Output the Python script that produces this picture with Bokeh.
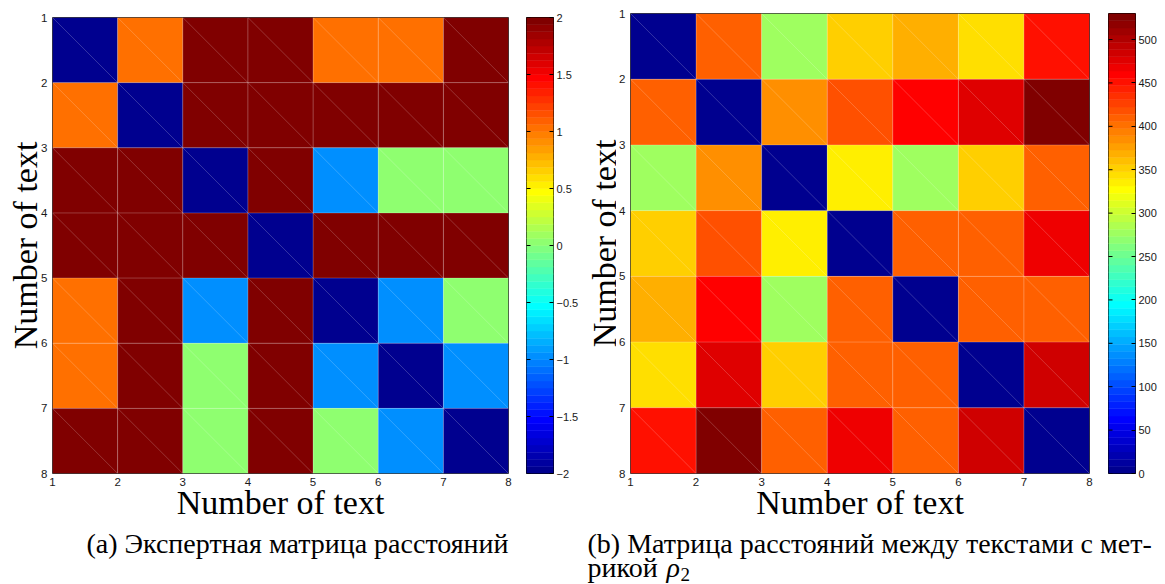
import math
import numpy as np
from bokeh.plotting import figure
from bokeh.models import (Range1d, FixedTicker, Label, ColumnDataSource,
                          LinearColorMapper, CustomJSTickFormatter)
from bokeh.layouts import row, column
from bokeh.embed import file_html
from bokeh.resources import INLINE

# ---------------- data ----------------
text_ids = [1, 2, 3, 4, 5, 6, 7]
tick_vals = [1, 2, 3, 4, 5, 6, 7, 8]

# (a) expert distance matrix
expert = [
    [-2, 1, 2, 2, 1, 1, 2],
    [1, -2, 2, 2, 2, 2, 2],
    [2, 2, -2, 2, -1, 0, 0],
    [2, 2, 2, -2, 2, 2, 2],
    [1, 2, -1, 2, -2, -1, 0],
    [1, 2, 0, 2, -1, -2, -1],
    [2, 2, 0, 2, 0, -1, -2],
]
expert_low, expert_high = -2, 2
expert_cbar_ticks = [-2, -1.5, -1, -0.5, 0, 0.5, 1, 1.5, 2]

# (b) distance matrix with metric rho_2
rho2 = [
    [0, 410, 277, 352, 369, 344, 451],
    [410, 0, 385, 418, 460, 476, 526],
    [277, 385, 0, 335, 277, 352, 410],
    [352, 418, 335, 0, 410, 410, 468],
    [369, 460, 277, 410, 0, 410, 410],
    [344, 476, 352, 410, 410, 0, 485],
    [451, 526, 410, 468, 410, 485, 0],
]
rho2_low, rho2_high = 0, 530
rho2_cbar_ticks = [0, 50, 100, 150, 200, 250, 300, 350, 400, 450, 500]

axis_title = "Number of text"
caption_a = "(a) Экспертная матрица расстояний"
caption_b1 = "(b) Матрица расстояний между текстами с мет-"
caption_b2 = "рикой"
caption_b_sym = "ρ"
caption_b_sub = "2"

SANS = "Liberation Sans"
SERIF = "Liberation Serif"
TICK_SIZE = "11.5px"
TITLE_PX = 34
CAPTION_PX = 28
SUB_PX = 19


def jet(m=64):
    n = math.ceil(m / 4)
    u = [i / n for i in range(1, n + 1)] + [1.0] * (n - 1) + [i / n for i in range(n, 0, -1)]
    g0 = math.ceil(n / 2) - (1 if m % 4 == 1 else 0)
    J = np.zeros((m, 3))
    for k in range(len(u)):
        gi = g0 + k + 1
        ri, bi = gi + n, gi - n
        if 1 <= gi <= m:
            J[gi - 1, 1] = u[k]
        if 1 <= ri <= m:
            J[ri - 1, 0] = u[k]
        if 1 <= bi <= m:
            J[bi - 1, 2] = u[k]
    return ["#%02x%02x%02x" % tuple(int(round(c * 255)) for c in rc) for rc in J]


JET = jet(64)
ROW_H = 526


def heat(matrix, lo, hi, width, bl, bt, br, frame_h):
    mapper = LinearColorMapper(palette=JET, low=lo, high=hi)
    xs, ys, vs = [], [], []
    for r, rv in enumerate(matrix):
        for c, v in enumerate(rv):
            xs.append(text_ids[c]); ys.append(text_ids[r]); vs.append(v)
    src = ColumnDataSource(dict(x=xs, y=ys, x1=[x + 1 for x in xs],
                                y1=[y + 1 for y in ys], v=vs))
    p = figure(width=width, height=ROW_H, x_range=Range1d(1, 8), y_range=Range1d(8, 1),
               toolbar_location=None, output_backend="svg", title=None, frame_align=False,
               min_border_left=bl, min_border_top=bt, min_border_right=br,
               min_border_bottom=ROW_H - bt - frame_h)
    p.quad(left='x', right='x1', top='y', bottom='y1', source=src,
           fill_color={'field': 'v', 'transform': mapper}, line_color=None)
    p.quad(left='x', right='x1', top='y', bottom='y1', source=src,
           fill_color=None, line_color='white', line_alpha=0.12, line_width=1)
    p.segment(x0='x', y0='y', x1='x1', y1='y1', source=src,
              line_color='white', line_alpha=0.25, line_width=0.8)
    p.grid.visible = False
    p.outline_line_color = "#2b2b2b"
    p.outline_line_width = 1
    for ax in (p.xaxis[0], p.yaxis[0]):
        ax.ticker = FixedTicker(ticks=tick_vals)
        ax.major_tick_in = 0
        ax.major_tick_out = 0
        ax.minor_tick_line_color = None
        ax.axis_line_color = None
        ax.major_label_text_font = SANS
        ax.major_label_text_font_size = TICK_SIZE
        ax.major_label_text_color = "#1a1a1a"
    p.xaxis.major_label_standoff = 4
    p.yaxis.major_label_standoff = 5
    xa = p.xaxis[0]
    xa.axis_label = axis_title
    xa.axis_label_text_font = SERIF
    xa.axis_label_text_font_size = f"{TITLE_PX}px"
    xa.axis_label_text_font_style = "normal"
    xa.axis_label_text_color = "black"
    xa.axis_label_standoff = -5
    p.background_fill_color = "white"
    p.border_fill_color = "white"
    return p


def cbar(lo, hi, ticks, width, bl, bt, br, frame_h, fmt_code):
    n = len(JET)
    step = (hi - lo) / n
    src = ColumnDataSource(dict(bottom=[lo + i * step for i in range(n)],
                                top=[lo + (i + 1) * step for i in range(n)],
                                color=JET))
    p = figure(width=width, height=ROW_H, x_range=Range1d(0, 1), y_range=Range1d(lo, hi),
               toolbar_location=None, output_backend="svg", y_axis_location="right",
               x_axis_location=None, title=None, frame_align=False,
               min_border_left=bl, min_border_top=bt, min_border_right=br,
               min_border_bottom=ROW_H - bt - frame_h)
    p.quad(left=0, right=1, bottom='bottom', top='top', source=src,
           fill_color='color', line_color='color', line_width=0.5)
    # inward tick marks on the left edge of the colour bar
    p.scatter(x=[0] * len(ticks), y=ticks, marker="dash", size=8,
              line_color="black", line_width=1)
    p.grid.visible = False
    p.outline_line_color = "black"
    p.outline_line_width = 1
    ax = p.yaxis[0]
    ax.ticker = FixedTicker(ticks=ticks)
    ax.formatter = CustomJSTickFormatter(code=fmt_code)
    ax.major_tick_in = 4
    ax.major_tick_out = 0
    ax.major_tick_line_color = "black"
    ax.minor_tick_line_color = None
    ax.axis_line_color = None
    ax.major_label_standoff = 3
    ax.major_label_text_font = SANS
    ax.major_label_text_font_size = "11px"
    ax.major_label_text_color = "#1a1a1a"
    p.border_fill_color = "white"
    return p


def ylab(width, x_mid, y_center):
    p = figure(width=width, height=ROW_H, x_range=Range1d(0, width), y_range=Range1d(0, ROW_H),
               toolbar_location=None, output_backend="svg", min_border=0, title=None,
               frame_align=False,
               x_axis_location=None, y_axis_location=None, outline_line_color=None)
    p.grid.visible = False
    p.add_layout(Label(x=x_mid, y=y_center, text=axis_title, angle=math.pi / 2,
                       text_align="center", text_baseline="middle",
                       text_font=SERIF, text_font_size=f"{TITLE_PX}px", text_color="black"))
    return p


fmt_minus = "return (tick < 0 ? '\u2212' : '') + Math.abs(tick).toString();"

yl_a = ylab(38, 25, ROW_H - 245)
heat_a = heat(expert, expert_low, expert_high, 480, 13, 17, 10, 456)
cbar_a = cbar(expert_low, expert_high, expert_cbar_ticks, 67, 8, 17, 32, 456, fmt_minus)
yl_b = ylab(31, 19, ROW_H - 243)
heat_b = heat(rho2, rho2_low, rho2_high, 480, 13, 13, 7, 460)
cbar_b = cbar(rho2_low, rho2_high, rho2_cbar_ticks, 69, 12, 13, 30, 460, fmt_minus)

# caption strip (page y ROW_H..584)
CAP_W, CAP_H = 1165, 584 - ROW_H
cap = figure(width=CAP_W, height=CAP_H, x_range=Range1d(0, CAP_W), y_range=Range1d(0, CAP_H),
             toolbar_location=None, output_backend="svg", min_border=0, title=None,
             frame_align=False,
             x_axis_location=None, y_axis_location=None, outline_line_color=None)
cap.grid.visible = False


def base_y(page_baseline, size_px):
    # data y inside the caption strip for a given page baseline (with font offset)
    return 584 - (page_baseline - 0.35 * size_px)


def add_text(x, page_baseline, text, size_px, align="left", style="normal"):
    cap.add_layout(Label(x=x, y=base_y(page_baseline, size_px), text=text, text_align=align,
                         text_baseline="alphabetic", text_font=SERIF,
                         text_font_style=style,
                         text_font_size=f"{size_px}px", text_color="black"))


add_text(297, 553, caption_a, CAPTION_PX, align="center")
add_text(587, 553, caption_b1, CAPTION_PX)
add_text(587, 577, caption_b2, CAPTION_PX)
add_text(666, 577, caption_b_sym, CAPTION_PX, style="italic")
add_text(680, 581, caption_b_sub, SUB_PX)

layout = column(row(yl_a, heat_a, cbar_a, yl_b, heat_b, cbar_b), cap)

with open("out.html", "w", encoding="utf-8") as f:
    f.write(file_html(layout, INLINE))
